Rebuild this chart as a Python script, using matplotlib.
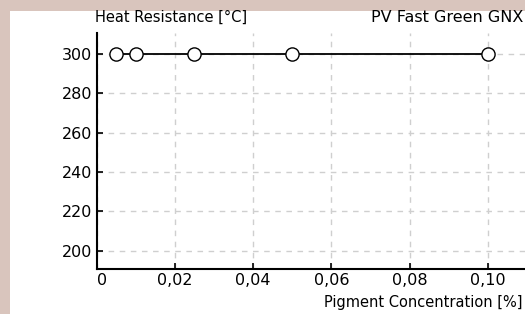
import matplotlib.pyplot as plt
from matplotlib.patches import Rectangle
from matplotlib.ticker import FuncFormatter

# pigment concentration [%] vs heat resistance [°C]
conc = [0.005, 0.01, 0.025, 0.05, 0.1]
heat = [300, 300, 300, 300, 300]
xticks = [0, 0.02, 0.04, 0.06, 0.08, 0.10]
yticks = [200, 220, 240, 260, 280, 300]

plt.rcParams['font.family'] = ['DejaVu Sans']

W, H = 525, 314
fig = plt.figure(figsize=(W / 100, H / 100), dpi=100, facecolor='#d9c5bd')
fig.patches.append(Rectangle((10 / W, 0), 1, (H - 11) / H, transform=fig.transFigure,
                             facecolor='white', edgecolor='none', zorder=-5))

ax = fig.add_axes([96.5 / W, (H - 268.5) / H, (W - 96.5) / W, (268.5 - 33) / H])
ax.set_facecolor('none')

ax.plot(conc, heat, color='black', lw=1.3, marker='o', markersize=9.5,
        markerfacecolor='white', markeredgecolor='black', markeredgewidth=1, clip_on=False, zorder=3)

ax.set_xlim(0, 0.1095)
ax.set_ylim(191, 310.5)
ax.set_xticks(xticks)
ax.set_yticks(yticks)
ax.xaxis.set_major_formatter(FuncFormatter(lambda v, p: '0' if v == 0 else f'{v:.2f}'.replace('.', ',')))
ax.grid(True, color='#cfcfcf', ls=(0, (4, 4)), lw=1)
ax.tick_params(direction='in', length=4, width=1.2, labelsize=11.5, colors='black', pad=3)
ax.tick_params(axis='x', pad=3)
ax.get_xticklabels()[0].set_horizontalalignment('left')

for s in ['top', 'right']:
    ax.spines[s].set_visible(False)
for s in ['left', 'bottom']:
    ax.spines[s].set_linewidth(1.5)

fig.text(95 / W, 1 - 17 / H, 'Heat Resistance [°C]', fontsize=10.5, ha='left', va='center')
fig.text(523 / W, 1 - 17 / H, 'PV Fast Green GNX', fontsize=11.5, ha='right', va='center')
fig.text(523 / W, 1 - 302 / H, 'Pigment Concentration [%]', fontsize=10.5, ha='right', va='center')

fig.savefig('out.png', dpi=100, facecolor=fig.get_facecolor())
